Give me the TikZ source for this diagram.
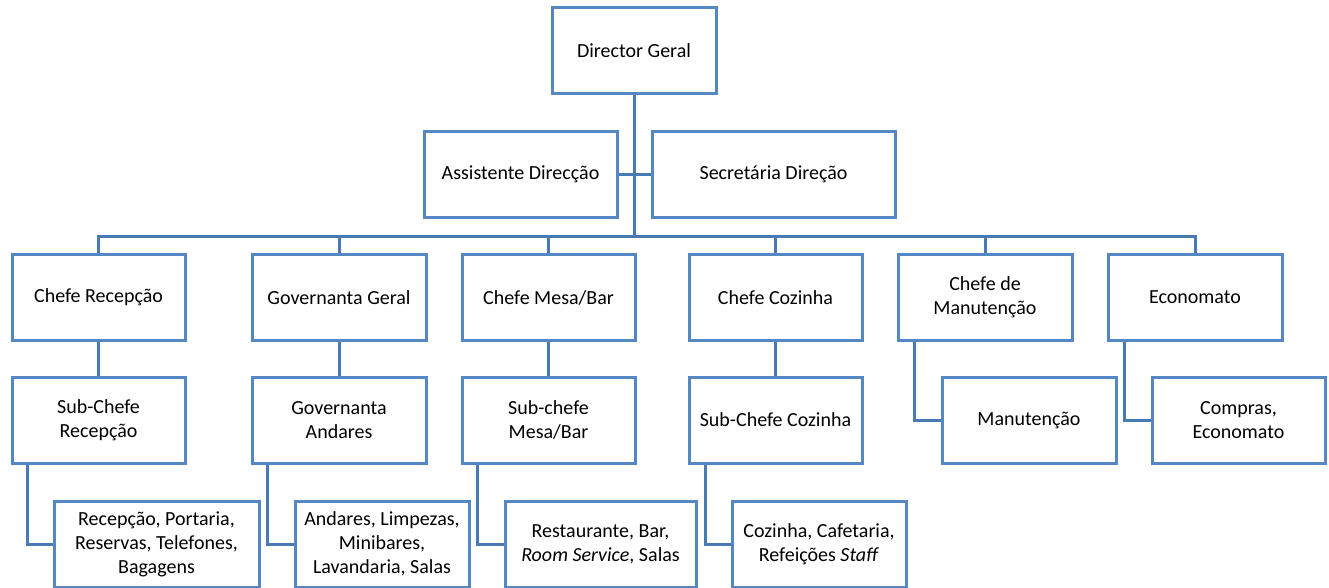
\documentclass[tikz,border=0pt]{standalone}
\usepackage{fontspec}
\setmainfont{Carlito}
\definecolor{boxblue}{RGB}{84,135,196}
\definecolor{lineblue}{RGB}{74,122,180}
\begin{document}
\begin{tikzpicture}[x=1pt,y=-1pt,
  box/.style={draw=boxblue,line width=3pt,fill=white,align=center,inner sep=2pt,
    font=\fontsize{20}{24}\selectfont,text=black},
  conn/.style={draw=lineblue,line width=3pt}]
\useasboundingbox (0,0) rectangle (1329,588);
% level 0/1
\node[box,minimum width=164pt,minimum height=86pt] (dg) at (634,51) {Director Geral};
\node[box,minimum width=193pt,minimum height=85pt] (ad) at (520.5,174.5) {Assistente Direcção};
\node[box,minimum width=243pt,minimum height=85pt] (sd) at (773.5,174.5) {Secretária Direção};
% level 2
\node[box,minimum width=173pt,minimum height=86pt] (cr) at (98.5,297.5) {Chefe Recepção};
\node[box,minimum width=174pt,minimum height=86pt] (gg) at (339,297.5) {Governanta Geral};
\node[box,minimum width=173pt,minimum height=86pt] (cm) at (548.5,297.5) {Chefe Mesa/Bar};
\node[box,minimum width=173pt,minimum height=86pt] (cc) at (775.5,297.5) {Chefe Cozinha};
\node[box,minimum width=174pt,minimum height=86pt] (cman) at (985,297.5) {Chefe de\\Manutenção};
\node[box,minimum width=174pt,minimum height=86pt] (eco) at (1195,297.5) {Economato};
% level 3
\node[box,minimum width=173pt,minimum height=86pt] (scr) at (98.5,420) {Sub-Chefe\\Recepção};
\node[box,minimum width=174pt,minimum height=86pt] (ga) at (339,420) {Governanta\\Andares};
\node[box,minimum width=173pt,minimum height=86pt] (scm) at (548.5,420) {Sub-chefe\\Mesa/Bar};
\node[box,minimum width=173pt,minimum height=86pt] (scc) at (775.5,420) {Sub-Chefe Cozinha};
\node[box,minimum width=174pt,minimum height=86pt] (man) at (1029,420) {Manutenção};
\node[box,minimum width=173pt,minimum height=86pt] (comp) at (1238.5,420) {Compras,\\Economato};
% level 4
\node[box,minimum width=205pt,minimum height=86pt] (rec) at (156.5,544) {Recepção, Portaria,\\Reservas, Telefones,\\Bagagens};
\node[box,minimum width=174pt,minimum height=86pt] (and) at (382,544) {Andares, Limpezas,\\Minibares,\\Lavandaria, Salas};
\node[box,minimum width=191pt,minimum height=86pt] (rest) at (600.5,544) {Restaurante, Bar,\\\textit{Room Service}, Salas};
\node[box,minimum width=174pt,minimum height=86pt] (coz) at (819,544) {Cozinha, Cafetaria,\\Refeições \textit{Staff}};
% connectors
\coordinate (bus) at (634,236);
\path[conn] (dg.south) -- (bus);
\path[conn] (ad.east) -- (sd.west);
\path[conn] (cr.north) |- (bus) -| (eco.north);
\path[conn] (gg.north) -- (gg.north |- bus);
\path[conn] (cm.north) -- (cm.north |- bus);
\path[conn] (cc.north) -- (cc.north |- bus);
\path[conn] (cman.north) -- (cman.north |- bus);
\path[conn] (cr.south) -- (scr.north);
\path[conn] (gg.south) -- (ga.north);
\path[conn] (cm.south) -- (scm.north);
\path[conn] (cc.south) -- (scc.north);
\path[conn] ([xshift=18pt]cman.south west) |- (man.west);
\path[conn] ([xshift=18pt]eco.south west) |- (comp.west);
\path[conn] ([xshift=17pt]scr.south west) |- (rec.west);
\path[conn] ([xshift=17pt]ga.south west) |- (and.west);
\path[conn] ([xshift=17pt]scm.south west) |- (rest.west);
\path[conn] ([xshift=18pt]scc.south west) |- (coz.west);
\end{tikzpicture}
\end{document}
